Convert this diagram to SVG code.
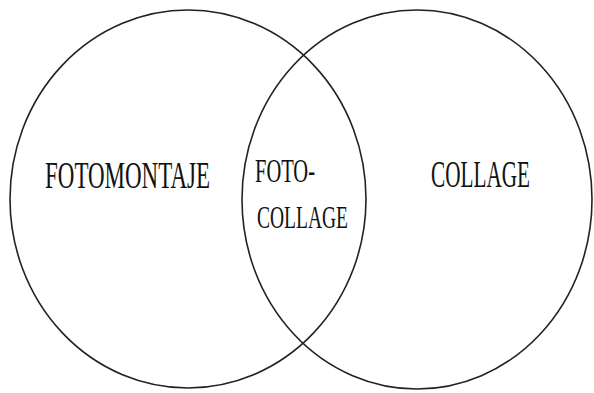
<svg xmlns="http://www.w3.org/2000/svg" width="594" height="393" viewBox="0 0 594 393">
<style>
.c{fill:none;stroke:#222;stroke-width:1.6}
.t{font-family:"Liberation Serif","DejaVu Serif",serif;fill:#111;font-size:37px}
</style>
<rect width="594" height="393" fill="#fff"/>
<g id="left-set"><ellipse class="c" cx="188" cy="199" rx="178" ry="189"/>
<text class="t" x="45" y="188" textLength="165" lengthAdjust="spacingAndGlyphs">FOTOMONTAJE</text></g>
<g id="right-set"><ellipse class="c" cx="417" cy="199.5" rx="175" ry="189.5"/>
<text class="t" x="431" y="187" textLength="99" lengthAdjust="spacingAndGlyphs">COLLAGE</text></g>
<g id="intersection">
<text class="t" x="255" y="182" textLength="60" lengthAdjust="spacingAndGlyphs" style="font-size:33px">FOTO-</text>
<text class="t" x="257" y="228" textLength="91" lengthAdjust="spacingAndGlyphs" style="font-size:32px">COLLAGE</text></g>
</svg>
